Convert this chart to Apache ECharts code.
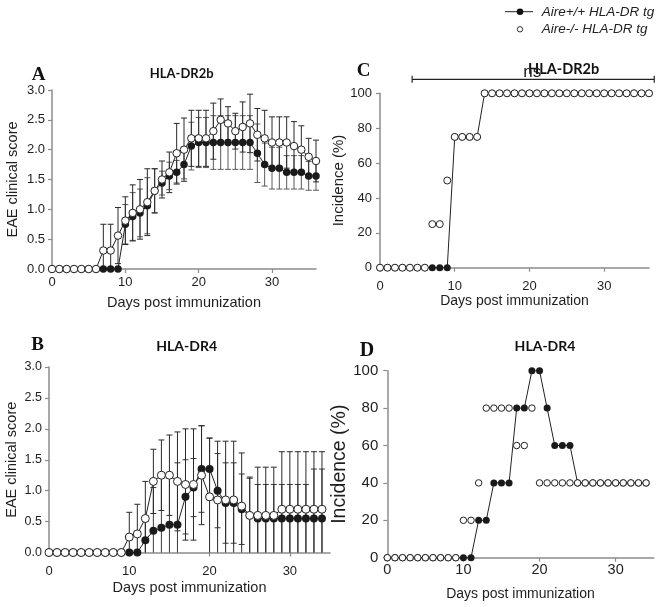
<!DOCTYPE html>
<html><head><meta charset="utf-8">
<script src="https://cdn.jsdelivr.net/npm/echarts@6/dist/echarts.min.js"></script>
<style>html,body{margin:0;padding:0;background:#fff}#c{width:663px;height:607px}</style>
</head><body><div id="c"></div><script>
// ---- data (index = day post immunization) ----
const seriesNames = ['Aire+/+ HLA-DR tg', 'Aire-/- HLA-DR tg'];
const panelLetters = ['A', 'B', 'C', 'D'];
const panelTitles = ['HLA-DR2b', 'HLA-DR4', 'HLA-DR2b', 'HLA-DR4'];
const xTicks = [0, 10, 20, 30];
const scoreTicks = [0, 0.5, 1, 1.5, 2, 2.5, 3];
const incidenceTicks = [0, 20, 40, 60, 80, 100];
const xAxisName = 'Days post immunization';
const scoreName = 'EAE clinical score';
const incidenceName = 'Incidence (%)';
const nsLabel = 'ns';
const nsBracket = [4.3, 36.7, 108]; // from day, to day, height (%)

// Panel A: HLA-DR2b clinical score, days 0..36
const aWtScore = [0,0,0,0,0,0,0,0,0,0, 0.75,0.88,0.94,1.06,1.31,1.44,1.56,1.62,1.75,2.06,
  2.12,2.12,2.12,2.12,2.12,2.12,2.12,2.12,1.94,1.75,1.69,1.69,1.62,1.62,1.62,1.56,1.56];
const aWtSem = [0,0,0,0,0,0,0,0,0,0, 0.33,0.4,0.4,0.47,0.37,0.2,0.23,0.2,0.24,0.4,
  0.42,0.42,0.45,0.45,0.45,0.45,0.45,0.45,0.49,0.36,0.35,0.35,0.28,0.28,0.28,0.24,0.24];
const aKoScore = [0,0,0,0,0,0,0, 0.31,0.31,0.56,0.81,0.94,1.0,1.12,1.31,1.5,1.62,1.94,2.0,2.19,
  2.19,2.19,2.31,2.5,2.44,2.31,2.38,2.44,2.25,2.19,2.12,2.12,2.12,2.06,2.0,1.88,1.81];
const aKoSem = [0,0,0,0,0,0,0, 0.44,0.44,0.47,0.4,0.47,0.5,0.56,0.37,0.31,0.34,0.5,0.53,0.47,
  0.47,0.47,0.47,0.35,0.28,0.3,0.42,0.49,0.44,0.47,0.43,0.43,0.43,0.41,0.4,0.31,0.35];

// Panel B: HLA-DR4 clinical score, days 0..34
const bWtScore = [0,0,0,0,0,0,0,0,0,0,0,0, 0.2,0.35,0.4,0.45,0.45,0.9,1.05,1.35,1.35,1.0,0.8,0.8,0.7,0.6,
  0.55,0.55,0.55,0.55,0.55,0.55,0.55,0.55,0.55];
const bWtSem = [0,0,0,0,0,0,0,0,0,0,0,0, 0.3,0.7,0.8,0.75,1.0,0.6,0.47,0.7,0.5,0.6,0.65,0.65,0.57,0.6,
  0.55,0.55,0.55,0.55,0.55,0.55,0.55,0.8,0.8];
const bKoScore = [0,0,0,0,0,0,0,0,0,0, 0.25,0.3,0.55,1.15,1.25,1.25,1.15,1.1,1.1,1.25,0.9,0.85,0.85,0.85,0.75,
  0.6,0.6,0.6,0.6,0.7,0.7,0.7,0.7,0.7,0.7];
const bKoSem = [0,0,0,0,0,0,0,0,0,0, 0.4,0.48,0.6,0.52,0.57,0.65,0.8,0.9,0.9,0.8,0.95,0.95,0.95,0.95,0.86,
  0.62,0.78,0.78,0.78,0.93,0.93,0.93,0.93,0.93,0.93];

// Panel C: HLA-DR2b incidence (%), days 0..36
const cWtInc = [0,0,0,0,0,0,0,0,0,0, 75,75,75,75,
  100,100,100,100,100,100,100,100,100,100,100,100,100,100,100,100,100,100,100,100,100,100,100];
const cKoInc = [0,0,0,0,0,0,0, 25,25,50, 75,75,75,75,
  100,100,100,100,100,100,100,100,100,100,100,100,100,100,100,100,100,100,100,100,100,100,100];

// Panel D: HLA-DR4 incidence (%), days 0..34
const dWtInc = [0,0,0,0,0,0,0,0,0,0,0,0, 20,20,40,40,40,80,80,100,100,80,60,60,60,
  40,40,40,40,40,40,40,40,40,40];
const dKoInc = [0,0,0,0,0,0,0,0,0,0, 20,20,40,80,80,80,80,60,60,80,
  40,40,40,40,40,40,40,40,40,40,40,40,40,40,40];

// ---- chart ----
const toPts = (vals) => vals.map((v, d) => [d, v]);
const toErr = (vals, sem) => vals.map((v, d) => [d, v, sem[d]]);

const AXIS_COLOR = '#8c8c8c';
const TEXT_COLOR = '#1e1e1e';
const MARK_COLOR = '#1a1a1a';

const grids = [
  {left: 52, top: 90, width: 264, height: 179},
  {left: 49, top: 367, width: 281, height: 185.5},
  {left: 380, top: 93.3, width: 269, height: 174.4},
  {left: 387.3, top: 370.7, width: 266.4, height: 187}
].map(g => Object.assign({outerBoundsMode: 'none', containLabel: false}, g));

function xAxisFor(i, max, labelSize, labelMargin, nameSize, nameGap) {
  return {
    type: 'value', gridIndex: i, min: 0, max: max, interval: 10,
    name: xAxisName, nameLocation: 'middle', nameGap: nameGap,
    nameTextStyle: {fontFamily: 'Liberation Sans', fontSize: nameSize, color: TEXT_COLOR},
    axisLine: {show: true, lineStyle: {color: AXIS_COLOR, width: 1.5}},
    axisTick: {show: true, length: 4, inside: false, lineStyle: {color: AXIS_COLOR, width: 1.2}, customValues: xTicks},
    axisLabel: {fontFamily: 'Liberation Sans', fontSize: labelSize, color: TEXT_COLOR, margin: labelMargin, customValues: xTicks},
    splitLine: {show: false}
  };
}
function yAxisFor(i, isScore, labelSize, labelMargin, nameSize, nameGap) {
  const ticks = isScore ? scoreTicks : incidenceTicks;
  return {
    type: 'value', gridIndex: i, min: 0, max: isScore ? 3 : 100, interval: isScore ? 0.5 : 20,
    name: isScore ? scoreName : incidenceName, nameLocation: 'middle', nameGap: nameGap,
    nameTextStyle: {fontFamily: 'Liberation Sans', fontSize: nameSize, color: TEXT_COLOR},
    axisLine: {show: true, lineStyle: {color: AXIS_COLOR, width: 1.5}},
    axisTick: {show: true, length: 4, inside: false, lineStyle: {color: AXIS_COLOR, width: 1.2}, customValues: ticks},
    axisLabel: {fontFamily: 'Liberation Sans', fontSize: labelSize, color: TEXT_COLOR, margin: labelMargin,
      customValues: ticks, formatter: v => isScore ? v.toFixed(1) : String(v)},
    splitLine: {show: false}
  };
}

function errSeries(i, data, color) {
  return {
    type: 'custom', xAxisIndex: i, yAxisIndex: i, z: 1, clip: false, silent: true,
    encode: {x: 0, y: 1},
    data: data,
    renderItem: function (params, api) {
      const x = api.value(0), y = api.value(1), e = api.value(2);
      if (!e) return null;
      const lo = Math.max(0, y - e), hi = y + e;
      const pt = api.coord([x, hi]), pb = api.coord([x, lo]);
      const st = {stroke: color, lineWidth: 1};
      const ch = [
        {type: 'line', shape: {x1: pt[0], y1: pt[1], x2: pb[0], y2: pb[1]}, style: st},
        {type: 'line', shape: {x1: pt[0] - 3, y1: pt[1], x2: pt[0] + 3, y2: pt[1]}, style: st}
      ];
      if (y - e > 0.01) ch.push({type: 'line', shape: {x1: pb[0] - 3, y1: pb[1], x2: pb[0] + 3, y2: pb[1]}, style: st});
      return {type: 'group', children: ch};
    }
  };
}
function wtLine(i, vals, size) {
  return {
    name: seriesNames[0], type: 'line', xAxisIndex: i, yAxisIndex: i, z: 2,
    data: toPts(vals), symbol: 'circle', symbolSize: size, showAllSymbol: true,
    itemStyle: {color: MARK_COLOR}, lineStyle: {color: '#222', width: 1}, animation: false
  };
}
function koLine(i, vals, size) {
  return {
    name: seriesNames[1], type: 'line', xAxisIndex: i, yAxisIndex: i, z: 3,
    data: toPts(vals), symbol: 'circle', symbolSize: size, showAllSymbol: true,
    itemStyle: {color: '#ffffff', borderColor: '#222', borderWidth: 1}, lineStyle: {color: '#222', width: 1}, animation: false
  };
}
function koScatter(i, vals, size) {
  return {
    name: seriesNames[1], type: 'scatter', xAxisIndex: i, yAxisIndex: i, z: 3,
    data: toPts(vals), symbol: 'circle', symbolSize: size,
    itemStyle: {color: '#ffffff', borderColor: '#222', borderWidth: 1, opacity: 1}, animation: false
  };
}

const series = [
  errSeries(0, toErr(aWtScore, aWtSem), '#5a5a5a'),
  errSeries(0, toErr(aKoScore, aKoSem), '#2a2a2a'),
  wtLine(0, aWtScore, 7.5), koLine(0, aKoScore, 7.5),
  errSeries(1, toErr(bWtScore, bWtSem), '#3a3a3a'),
  errSeries(1, toErr(bKoScore, bKoSem), '#2a2a2a'),
  wtLine(1, bWtScore, 8), koLine(1, bKoScore, 8),
  wtLine(2, cWtInc, 7), koScatter(2, cKoInc, 7),
  {
    type: 'custom', xAxisIndex: 2, yAxisIndex: 2, z: 4, clip: false, silent: true,
    encode: {x: 0, y: 2}, data: [nsBracket],
    renderItem: function (params, api) {
      const p0 = api.coord([api.value(0), api.value(2)]);
      const p1 = api.coord([api.value(1), api.value(2)]);
      const st = {stroke: '#222', lineWidth: 1.2};
      return {type: 'group', children: [
        {type: 'line', shape: {x1: p0[0], y1: p0[1], x2: p1[0], y2: p1[1]}, style: st},
        {type: 'line', shape: {x1: p0[0], y1: p0[1] - 3.5, x2: p0[0], y2: p0[1] + 3.5}, style: st},
        {type: 'line', shape: {x1: p1[0], y1: p1[1] - 3.5, x2: p1[0], y2: p1[1] + 3.5}, style: st},
        {type: 'text', style: {text: nsLabel, x: (p0[0] + p1[0]) / 2 - 1, y: p0[1] - 7,
          align: 'center', verticalAlign: 'middle', fontFamily: 'Liberation Sans', fontSize: 17, fill: '#222'}}
      ]};
    }
  },
  wtLine(3, dWtInc, 7), koScatter(3, dKoInc, 6.5)
];

const titleFont = 'Lato';
const graphic = [
  // panel letters
  {type: 'text', style: {text: panelLetters[0], x: 38.5, y: 75, align: 'center', verticalAlign: 'middle', fontFamily: 'Liberation Serif', fontWeight: 'bold', fontSize: 19, fill: '#111'}},
  {type: 'text', style: {text: panelLetters[1], x: 37.5, y: 345, align: 'center', verticalAlign: 'middle', fontFamily: 'Liberation Serif', fontWeight: 'bold', fontSize: 19, fill: '#111'}},
  {type: 'text', style: {text: panelLetters[2], x: 363.5, y: 71.5, align: 'center', verticalAlign: 'middle', fontFamily: 'Liberation Serif', fontWeight: 'bold', fontSize: 19, fill: '#111'}},
  {type: 'text', style: {text: panelLetters[3], x: 367, y: 351, align: 'center', verticalAlign: 'middle', fontFamily: 'Liberation Serif', fontWeight: 'bold', fontSize: 20, fill: '#111'}},
  // panel titles
  {type: 'text', style: {text: panelTitles[0], x: 181.7, y: 73.5, align: 'center', verticalAlign: 'middle', fontFamily: titleFont, fontWeight: 'bold', fontSize: 13, fill: '#111'}},
  {type: 'text', style: {text: panelTitles[1], x: 186.7, y: 346.5, align: 'center', verticalAlign: 'middle', fontFamily: titleFont, fontWeight: 'bold', fontSize: 14, fill: '#111'}},
  {type: 'text', style: {text: panelTitles[2], x: 563.6, y: 69.5, align: 'center', verticalAlign: 'middle', fontFamily: titleFont, fontWeight: 'bold', fontSize: 14.5, fill: '#111'}},
  {type: 'text', style: {text: panelTitles[3], x: 545, y: 346.7, align: 'center', verticalAlign: 'middle', fontFamily: titleFont, fontWeight: 'bold', fontSize: 14, fill: '#111'}},
  // legend
  {type: 'line', shape: {x1: 505, y1: 11.7, x2: 533, y2: 11.7}, style: {stroke: '#222', lineWidth: 1}},
  {type: 'circle', shape: {cx: 520, cy: 11.7, r: 3.3}, style: {fill: '#111'}},
  {type: 'text', style: {text: seriesNames[0], x: 541.7, y: 12, verticalAlign: 'middle', fontFamily: 'Liberation Sans', fontStyle: 'italic', fontSize: 13.5, fill: '#222'}},
  {type: 'circle', shape: {cx: 520, cy: 29.3, r: 2.7}, style: {fill: '#fff', stroke: '#333', lineWidth: 1}},
  {type: 'text', style: {text: seriesNames[1], x: 541.7, y: 29.5, verticalAlign: 'middle', fontFamily: 'Liberation Sans', fontStyle: 'italic', fontSize: 13.5, fill: '#222'}}
];

const chart = echarts.init(document.getElementById('c'), null, {renderer: 'canvas'});
chart.setOption({
  backgroundColor: '#ffffff',
  animation: false,
  grid: grids,
  xAxis: [
    xAxisFor(0, 36, 13, 7, 14.5, 26),
    xAxisFor(1, 35, 13, 12, 14.5, 28),
    xAxisFor(2, 36, 13, 12, 14, 26),
    xAxisFor(3, 35, 14.5, 5, 14, 29)
  ],
  yAxis: [
    yAxisFor(0, true, 13, 7, 14.5, 32),
    yAxisFor(1, true, 12.5, 7, 14.5, 30),
    yAxisFor(2, false, 13, 8, 15, 31),
    yAxisFor(3, false, 15, 9, 19.5, 30)
  ],
  series: series,
  graphic: graphic
});
</script></body></html>
